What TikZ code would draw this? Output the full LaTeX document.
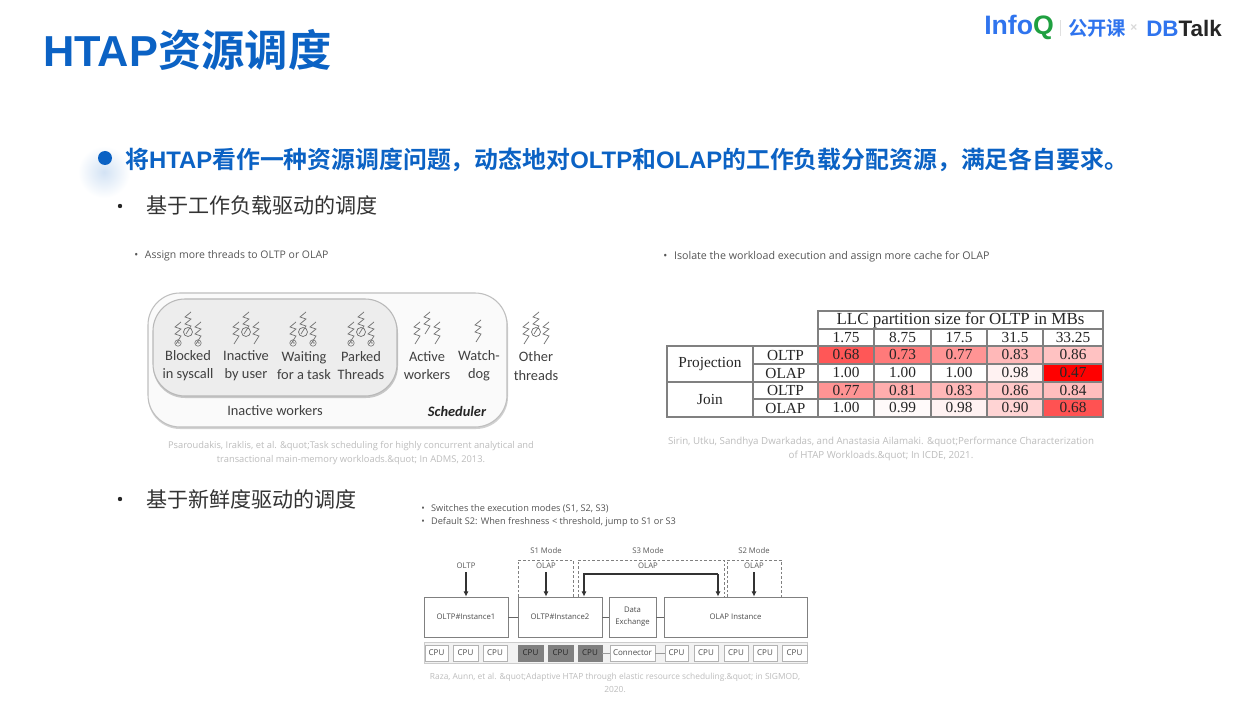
\documentclass[tikz,border=0pt]{standalone}
\usepackage{fontspec}
\usetikzlibrary{arrows.meta}
\setmainfont{Liberation Serif}
\newfontfamily\cjk{Noto Sans CJK SC}
\newfontfamily\cjkb{Noto Sans CJK SC Bold}
\newfontfamily\latb{Liberation Sans Bold}
\newfontfamily\carl{Carlito}
\newfontfamily\opens{Open Sans}
\newfontfamily\sernf{Liberation Serif}
\definecolor{hblue}{HTML}{0B62C4}
\definecolor{logoblue}{HTML}{2F74EE}
\definecolor{logogreen}{HTML}{1FA040}
\definecolor{capgray}{HTML}{BDBDBD}
\definecolor{bodygray}{HTML}{555555}
\definecolor{grid}{HTML}{808080}
\newcommand{\Ltn}[1]{{\latb #1}}
\tikzset{
  x=0.75pt,y=-0.75pt,
  txt/.style={inner sep=0pt,anchor=west},
  titletext/.style={txt,text=hblue,font=\cjkb\fontsize{32.5}{38}\selectfont},
  leadtext/.style={txt,text=hblue,font=\cjkb\fontsize{17.9}{21}\selectfont},
  subtext/.style={txt,text=black!80,font=\cjk\fontsize{15.8}{19}\selectfont},
  smalltext/.style={txt,text=bodygray,font=\opens\fontsize{7.85}{9}\selectfont},
  smalltextb/.style={txt,text=bodygray,font=\opens\fontsize{6.9}{9}\selectfont},
  captext/.style={inner sep=0pt,align=center,text=capgray,font=\opens\fontsize{7}{10.8}\selectfont},
  worker/.style={inner sep=0pt,align=center,text=black!75,font=\carl\fontsize{10.8}{13.6}\selectfont},
  boltline/.style={draw=black!55,line width=0.55pt},
  cell/.style={draw=grid,line width=0.9pt,inner sep=0pt,minimum width=#1,text=black!85,font=\sernf\fontsize{11.5}{13}\selectfont},
  hbox/.style={draw=black!50,line width=0.6pt,inner sep=0pt,align=center,text=black!70,font=\opens\fontsize{5.8}{9}\selectfont},
  cpubox/.style={fill=white,draw=black!30,line width=0.6pt,inner sep=0pt,text=black!70,font=\opens\fontsize{6}{8}\selectfont},
  cpudark/.style={fill=black!50,draw=black!50,inner sep=0pt,text=black!85,font=\opens\fontsize{6}{8}\selectfont},
  modelabel/.style={inner sep=0pt,text=black!65,font=\opens\fontsize{5.8}{8}\selectfont},
  modebox/.style={draw=black!50,line width=0.5pt,dash pattern=on 2pt off 1.5pt},
  flow/.style={draw=black!80,line width=0.8pt,-{Latex[length=4pt,width=4pt]}},
  link/.style={draw=black!60,line width=0.7pt},
  pics/bolt/.style={code={\draw[boltline] (3,0)--(-3,5)--(3,7)--(-3,12)--(3,14)--(-2,22);}},
  pics/ring/.style={code={\draw[draw=black!55,line width=0.55pt] (0,0) circle (4.5);}},
  pics/clock/.style={code={\draw[draw=black!55,line width=0.45pt] (0,0) circle (3.2) (0,0)--(0,-2.2) (0,0)--(1.8,0);}},
  pics/threads/.style={code={
    \pic at (0,-20) {bolt};
    \pic at (-10,-10) {bolt};
    \pic at (10,-10) {bolt};
  }},
  pics/threadsring/.style={code={
    \pic at (0,0) {threads};
    \pic at (0,0) {ring};
  }},
  pics/threadsclock/.style={code={
    \pic at (0,0) {threadsring};
    \pic at (-10,11) {clock};
    \pic at (10,11) {clock};
  }},
}
\begin{document}
\begin{tikzpicture}
\useasboundingbox (0,0) rectangle (1246,709);
\fill[white] (0,0) rectangle (1246,709);
% header
\node[titletext] (title) at (43,50) {\Ltn{HTAP}资源调度};
\node[txt,font=\latb\fontsize{20}{22}\selectfont,text=logoblue] (infoq) at (984,27) {Info\textcolor{logogreen}{Q}};
\fill[black!12] (1060,20) rectangle (1061.2,36);
\node[txt,font=\cjkb\fontsize{14.5}{16}\selectfont,text=logoblue] (gkk) at (1068,28) {公开课};
\node[txt,font=\latb\fontsize{9}{9}\selectfont,text=black!15] (cross) at (1130,28) {×};
\node[txt,font=\latb\fontsize{16.8}{18}\selectfont,text=black!85] (dbtalk) at (1146,28) {\textcolor{logoblue}{DB}Talk};
% lead
\shade[inner color=hblue!18,outer color=white,draw=none] (104,172) circle (26);
\fill[hblue] (105,158) circle (7);
\node[leadtext] (lead) at (125,160) {将\Ltn{HTAP}看作一种资源调度问题，动态地对\Ltn{OLTP}和\Ltn{OLAP}的工作负载分配资源，满足各自要求。};
\fill[black!85] (120,206) circle (2.2);
\node[subtext] (sub1) at (146,205) {基于工作负载驱动的调度};
\fill[black!85] (120,499) circle (2.2);
\node[subtext] (sub2) at (146,499) {基于新鲜度驱动的调度};
% first figure
\node[smalltext] (a1) at (134,255.5) {•\hspace{3pt} Assign more threads to OLTP or OLAP};
\fill[black!18,rounded corners=24] (148,295) rectangle (508,429);
\draw[draw=black!25,fill=black!2,rounded corners=24,line width=0.8pt] (148,293) rectangle (507,427);
\fill[black!22,rounded corners=24] (153,301) rectangle (398,398);
\draw[draw=black!28,fill=black!7,rounded corners=24,line width=0.8pt] (153,299) rectangle (397,396);
\pic at (188,332) {threadsclock};
\pic at (246,332) {threadsring};
\pic at (303,332) {threadsclock};
\pic at (361,332) {threadsclock};
\pic at (427,332) {threads};
\pic at (478,320) {bolt};
\pic at (536,332) {threadsring};
\node[worker] (w1) at (188,365.5) {Blocked\\in syscall};
\node[worker] (w2) at (246,365.5) {Inactive\\by user};
\node[worker] (w3) at (304,365.5) {Waiting\\for a task};
\node[worker] (w4) at (361,365.5) {Parked\\Threads};
\node[worker] (w5) at (427,365.5) {Active\\workers};
\node[worker] (w6) at (479,365.5) {Watch-\\dog};
\node[worker] (w7) at (536,366) {Other\\threads};
\node[worker] (w8) at (275,411) {Inactive workers};
\node[worker,font=\carl\bfseries\itshape\fontsize{10.8}{13}\selectfont,text=black!85] (w9) at (457,411) {Scheduler};
\node[captext] (c1) at (351,453) {Psaroudakis, Iraklis, et al. \&quot;Task scheduling for highly concurrent analytical and\\transactional main-memory workloads.\&quot; In ADMS, 2013.};
% table
\node[smalltext,font=\opens\fontsize{8}{9}\selectfont] (b1) at (663,256.5) {•\hspace{3pt} Isolate the workload execution and assign more cache for OLAP};
\newcommand{\tcell}[7]{\node[cell=#4*0.75pt,minimum height=#5*0.75pt,fill=#6] (#1) at (#2,#3) {#7};}
\tcell{hd}{960.5}{320}{285}{18}{white}{\fontsize{12.7}{13}\selectfont LLC partition size for OLTP in MBs}
\foreach \n/\cx/\w/\t in {a/846/56/1.75,b/902.5/57/8.75,c/959/56/17.5,d/1015/56/31.5,e/1073/60/33.25}{
  \tcell{h\n}{\cx}{337.5}{\w}{17}{white}{\t}
}
\tcell{proj}{710}{364}{86}{36}{white}{Projection}
\tcell{join}{710}{399.5}{86}{35}{white}{Join}
\tcell{r1}{785.5}{355}{65}{18}{white}{OLTP}
\tcell{r2}{785.5}{373}{65}{18}{white}{OLAP}
\tcell{r3}{785.5}{390.5}{65}{17}{white}{OLTP}
\tcell{r4}{785.5}{408}{65}{18}{white}{OLAP}
\foreach \n/\cx/\w/\ta/\tb/\tc/\td/\ca/\cb/\cc/\cd in {
  a/846/56/0.68/1.00/0.77/1.00/66/0/42/0,
  b/902.5/57/0.73/1.00/0.81/0.99/52/0/32/2,
  c/959/56/0.77/1.00/0.83/0.98/42/0/28/5,
  d/1015/56/0.83/0.98/0.86/0.90/28/5/22/17,
  e/1073/60/0.86/0.47/0.84/0.68/24/100/26/68}{
  \tcell{v\n1}{\cx}{355}{\w}{18}{red!\ca!white}{\ta}
  \tcell{v\n2}{\cx}{373}{\w}{18}{red!\cb!white}{\tb}
  \tcell{v\n3}{\cx}{390.5}{\w}{17}{red!\cc!white}{\tc}
  \tcell{v\n4}{\cx}{408}{\w}{18}{red!\cd!white}{\td}
}
\node[captext,font=\opens\fontsize{7.3}{10.8}\selectfont] (c2) at (881,449) {Sirin, Utku, Sandhya Dwarkadas, and Anastasia Ailamaki. \&quot;Performance Characterization\\of HTAP Workloads.\&quot; In ICDE, 2021.};
% third figure
\node[smalltextb] (s1) at (421,508.5) {•\hspace{3pt} Switches the execution modes (S1, S2, S3)};
\node[smalltextb] (s2) at (421,522.5) {•\hspace{3pt} Default S2: When freshness < threshold, jump to S1 or S3};
\draw[modebox] (518,597) -- (518,560) -- (573,560) -- (573,597);
\draw[modebox] (578,597) -- (578,560) -- (724,560) -- (724,597);
\draw[modebox] (727,597) -- (727,560) -- (781,560) -- (781,597);
\node[modelabel] (m1) at (546,551) {S1 Mode};
\node[modelabel] (m3) at (648,551) {S3 Mode};
\node[modelabel] (m2) at (754,551) {S2 Mode};
\node[modelabel] (q1) at (466,566) {OLTP};
\node[modelabel] (q2) at (546,566) {OLAP};
\node[modelabel] (q3) at (648,566) {OLAP};
\node[modelabel] (q4) at (754,566) {OLAP};
\node[hbox,minimum width=84*0.75pt,minimum height=40*0.75pt] (i1) at (466,617) {OLTP\#Instance1};
\node[hbox,minimum width=84*0.75pt,minimum height=40*0.75pt] (i2) at (560,617) {OLTP\#Instance2};
\node[hbox,minimum width=47*0.75pt,minimum height=40*0.75pt] (dx) at (632.5,617) {Data\\Exchange};
\node[hbox,minimum width=143*0.75pt,minimum height=40*0.75pt] (oi) at (735.5,617) {OLAP Instance};
\draw[link] (i1) -- (i2);
\draw[link] (i2) -- (dx);
\draw[link] (dx) -- (oi);
\draw[flow,shorten <=2.5pt] (q1.south) -- (i1.north -| q1);
\draw[flow,shorten <=2.5pt] (q2.south) -- (i2.north -| q2);
\draw[flow,shorten <=2.5pt] (q4.south) -- (oi.north -| q4);
\coordinate (bendl) at (584,574);
\coordinate (bendr) at (718,574);
\draw[flow] (bendr) -- (bendl) -- (bendl |- i2.north);
\draw[flow] (bendr) -- (bendr |- oi.north);
\draw[draw=black!20,fill=black!5,line width=0.6pt] (424,642) rectangle (807,663);
\foreach \n/\cx/\w/\sty in {p1/436.5/23/cpubox,p2/465.5/25/cpubox,p3/495/24/cpubox,p4/530.5/25/cpudark,p5/560.5/25/cpudark,p6/590/24/cpudark,p7/676.5/23/cpubox,p8/706/24/cpubox,p9/736/24/cpubox,p10/765/24/cpubox,p11/794.5/25/cpubox}{
  \node[\sty,minimum width=\w*0.75pt,minimum height=16*0.75pt] (\n) at (\cx,653) {CPU};
}
\node[cpubox,minimum width=45*0.75pt,minimum height=16*0.75pt] (conn) at (632.5,653) {Connector};
\draw[link,draw=black!40] (p6) -- (conn);
\draw[link,draw=black!40] (conn) -- (p7);
\node[captext,font=\opens\fontsize{6.3}{10}\selectfont] (c3) at (615,683) {Raza, Aunn, et al. \&quot;Adaptive HTAP through elastic resource scheduling.\&quot; in SIGMOD,\\2020.};
\end{tikzpicture}
\end{document}
